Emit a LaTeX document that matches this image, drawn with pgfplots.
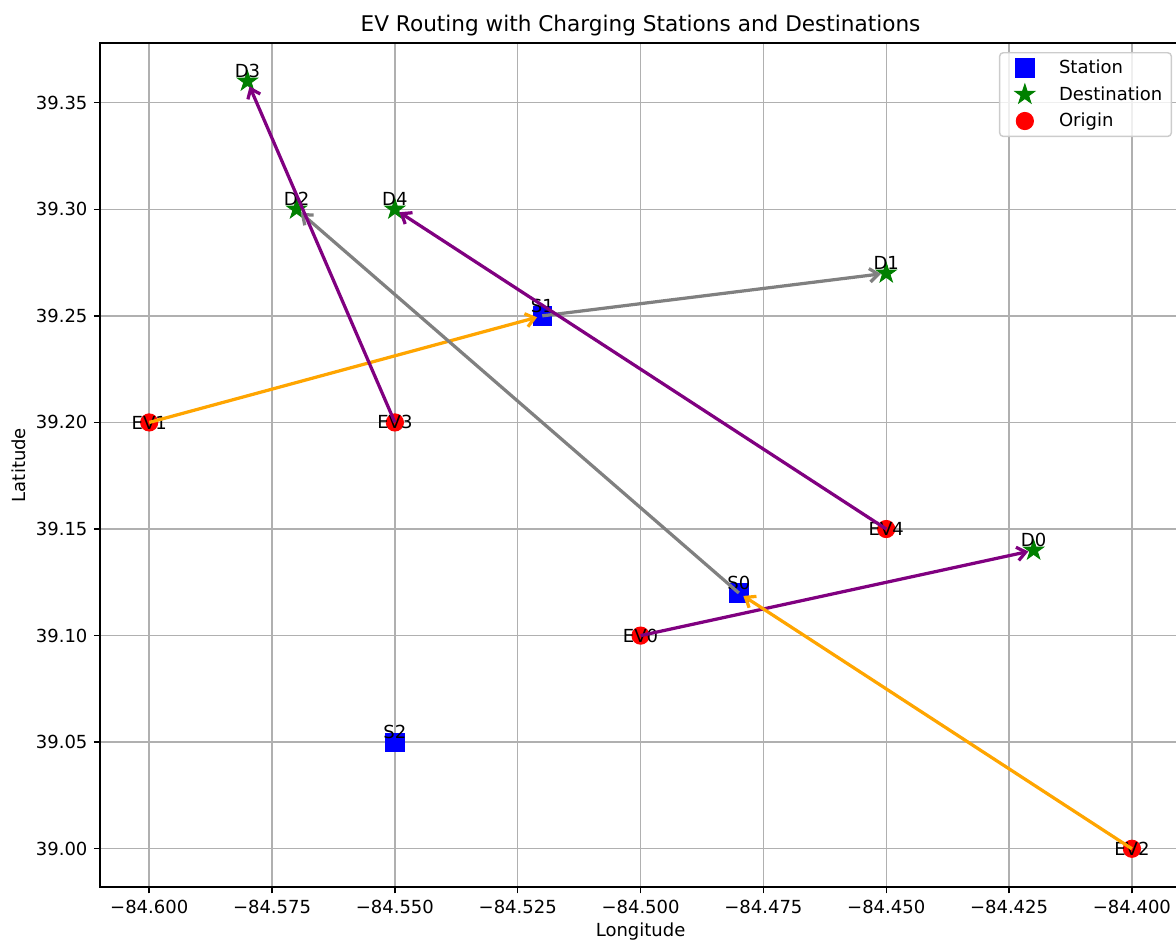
\documentclass[border=0pt]{standalone}
\usepackage{fontspec}
\setmainfont{DejaVu Sans}
\usepackage{pgfplots}
\pgfplotsset{compat=1.18}
\usetikzlibrary{arrows.meta}

\definecolor{mplgrid}{HTML}{B0B0B0}
\definecolor{mplorange}{HTML}{FFA500}
\definecolor{mplpurple}{HTML}{800080}
\definecolor{mplgray}{HTML}{808080}
\definecolor{mplgreen}{HTML}{008000}
\definecolor{mplblue}{HTML}{0000FF}
\definecolor{mplred}{HTML}{FF0000}

\pgfdeclareplotmark{fstar}{%
  \pgfpathmoveto{\pgfpointpolar{90}{\pgfplotmarksize}}%
  \pgfpathlineto{\pgfpointpolar{126}{0.381966\pgfplotmarksize}}%
  \pgfpathlineto{\pgfpointpolar{162}{\pgfplotmarksize}}%
  \pgfpathlineto{\pgfpointpolar{198}{0.381966\pgfplotmarksize}}%
  \pgfpathlineto{\pgfpointpolar{234}{\pgfplotmarksize}}%
  \pgfpathlineto{\pgfpointpolar{270}{0.381966\pgfplotmarksize}}%
  \pgfpathlineto{\pgfpointpolar{306}{\pgfplotmarksize}}%
  \pgfpathlineto{\pgfpointpolar{342}{0.381966\pgfplotmarksize}}%
  \pgfpathlineto{\pgfpointpolar{18}{\pgfplotmarksize}}%
  \pgfpathlineto{\pgfpointpolar{54}{0.381966\pgfplotmarksize}}%
  \pgfpathclose
  \pgfusepathqfillstroke
}

\pgfplotsset{
  mlegend/.style={legend image code/.code={%
      \path[draw=none, fill=none] (0pt,-3pt) rectangle (28pt,3pt);
      \draw[##1, fill opacity=1, draw opacity=1] plot coordinates {(11pt,0pt)};}},
  route/.style={line width=1.8pt, shorten >=3pt, -{Straight Barb[length=4.8pt,width=7.5pt]}, forget plot},
}
\tikzset{lbl/.style={font=\fontsize{10}{12}\selectfont, anchor=center}}

\pgfplotstableread{
x y
-84.48 39.12
-84.52 39.25
-84.55 39.05
}\stations
\pgfplotstableread{
x y
-84.42 39.14
-84.45 39.27
-84.57 39.30
-84.58 39.36
-84.55 39.30
}\destinations
\pgfplotstableread{
x y
-84.50 39.10
-84.60 39.20
-84.40 39.00
-84.55 39.20
-84.45 39.15
}\origins

\begin{document}
\begin{tikzpicture}
\begin{axis}[name=ax,
  width=600.6pt, height=469pt, scale only axis,
  xmin=-84.61, xmax=-84.39, ymin=38.982, ymax=39.378,
  clip marker paths=true,
  xtick={-84.6,-84.575,-84.55,-84.525,-84.5,-84.475,-84.45,-84.425,-84.4},
  xticklabels={−84.600,−84.575,−84.550,−84.525,−84.500,−84.475,−84.450,−84.425,−84.400},
  ytick={39,39.05,39.1,39.15,39.2,39.25,39.3,39.35},
  yticklabels={39.00,39.05,39.10,39.15,39.20,39.25,39.30,39.35},
  grid=major, grid style={mplgrid, line width=0.8pt},
  axis line style={line width=0.8pt},
  tick pos=left, tick align=outside, major tick length=3.5pt,
  tick style={black, line width=0.8pt},
  ticklabel style={font=\fontsize{10}{12}\selectfont},
  every axis x label/.style={at={([yshift=-27.2pt]axis description cs:0.5,0)}, anchor=base, font=\fontsize{10}{12}\selectfont},
  every axis y label/.style={at={([xshift=-41.5pt]axis description cs:0,0.5)}, rotate=90, anchor=base, font=\fontsize{10}{12}\selectfont},
  every axis title/.style={at={([yshift=6.5pt]axis description cs:0.5,1)}, anchor=base, font=\fontsize{12}{14.4}\selectfont},
  xlabel={Longitude}, ylabel={Latitude},
  title={EV Routing with Charging Stations and Destinations},
  legend style={at={(1,1)}, anchor=north east, xshift=-5pt, yshift=-5pt,
    draw=black!20, line width=0.8pt, rounded corners=2pt,
    fill=white, fill opacity=0.8, text opacity=1, draw opacity=1,
    font=\fontsize{10}{12}\selectfont, inner xsep=3pt, inner ysep=2pt, row sep=1.6pt},
  legend cell align=left,
]
\addplot[only marks, mark=square*, mark size=5.1pt, color=mplblue, mark options={line width=0.5pt}, mlegend] table {\stations};
\addlegendentry{Station}
\addplot[only marks, mark=fstar, mark size=5.8pt, color=mplgreen, mark options={line width=0.5pt}, mlegend] table {\destinations};
\addlegendentry{Destination}
\addplot[only marks, mark=*, mark size=4.8pt, color=mplred, mark options={line width=0.5pt}, mlegend] table {\origins};
\addlegendentry{Origin}

\node[lbl, yshift=5.6pt] at (axis cs:-84.48,39.12) {S0};
\node[lbl, yshift=5.6pt] at (axis cs:-84.52,39.25) {S1};
\node[lbl, yshift=5.6pt] at (axis cs:-84.55,39.05) {S2};
\node[lbl, yshift=5.6pt] at (axis cs:-84.42,39.14) {D0};
\node[lbl, yshift=5.6pt] at (axis cs:-84.45,39.27) {D1};
\node[lbl, yshift=5.6pt] at (axis cs:-84.57,39.30) {D2};
\node[lbl, yshift=5.6pt] at (axis cs:-84.58,39.36) {D3};
\node[lbl, yshift=5.6pt] at (axis cs:-84.55,39.30) {D4};
\node[lbl] at (axis cs:-84.50,39.10) {EV0};
\node[lbl] at (axis cs:-84.60,39.20) {EV1};
\node[lbl] at (axis cs:-84.40,39.00) {EV2};
\node[lbl] at (axis cs:-84.55,39.20) {EV3};
\node[lbl] at (axis cs:-84.45,39.15) {EV4};

\addplot[route, color=mplpurple] coordinates {(-84.50,39.10) (-84.42,39.14)};
\addplot[route, color=mplorange] coordinates {(-84.60,39.20) (-84.52,39.25)};
\addplot[route, color=mplgray] coordinates {(-84.52,39.25) (-84.45,39.27)};
\addplot[route, color=mplorange] coordinates {(-84.40,39.00) (-84.48,39.12)};
\addplot[route, color=mplgray] coordinates {(-84.48,39.12) (-84.57,39.30)};
\addplot[route, color=mplpurple] coordinates {(-84.55,39.20) (-84.58,39.36)};
\addplot[route, color=mplpurple] coordinates {(-84.45,39.15) (-84.55,39.30)};
\end{axis}
\pgfresetboundingbox
\path ([xshift=-55.6pt,yshift=-29.4pt]ax.south west) rectangle ([xshift=-2.8pt,yshift=23.9pt]ax.north east);
\end{tikzpicture}
\end{document}
